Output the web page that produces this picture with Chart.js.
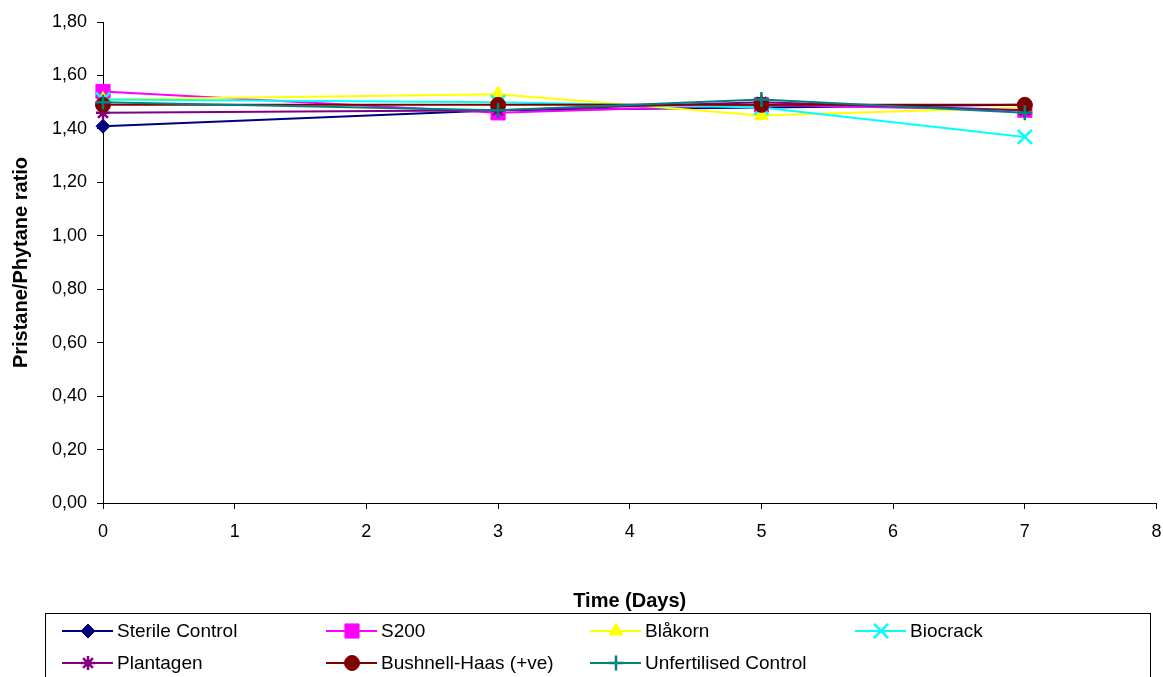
<!DOCTYPE html>
<html>
<head>
<meta charset="utf-8">
<script src="https://cdn.jsdelivr.net/npm/chart.js@4/dist/chart.umd.min.js"></script>
<style>
html,body{margin:0;padding:0;background:#fff;overflow:hidden;}
#wrap{position:relative;width:1163px;height:677px;overflow:hidden;}
</style>
</head>
<body>
<div id="wrap"><canvas id="c" width="1169" height="677"></canvas></div>
<script>
const days = [0, 3, 5, 7];
const sterileControl = [1.41, 1.47, 1.48, 1.49];
const s200 = [1.54, 1.46, 1.49, 1.47];
const blakorn = [1.51, 1.53, 1.45, 1.48];
const biocrack = [1.51, 1.50, 1.48, 1.37];
const plantagen = [1.46, 1.47, 1.50, 1.47];
const bushnellHaas = [1.49, 1.49, 1.49, 1.49];
const unfertilised = [1.50, 1.47, 1.51, 1.46];
const seriesNames = ['Sterile Control','S200','Blåkorn','Biocrack','Plantagen','Bushnell-Haas (+ve)','Unfertilised Control'];
const seriesValues = [sterileControl, s200, blakorn, biocrack, plantagen, bushnellHaas, unfertilised];
const xTicks = [0,1,2,3,4,5,6,7,8];

const colors = ['#000080','#FF00FF','#FFFF00','#00FFFF','#800080','#800000','#008080'];
const styles = ['rectRot','rect','triangle','crossRot','star','circle','cross'];
const radii = [7,10,8,10,7,7.5,7.5];
const FONT = "'Liberation Sans', Arial, sans-serif";

const datasets = seriesValues.map((vals,i)=>({
  label: seriesNames[i],
  data: vals.map((v,j)=>({x: days[j], y: v})),
  borderColor: colors[i],
  backgroundColor: colors[i],
  pointBackgroundColor: colors[i],
  pointBorderColor: colors[i],
  pointStyle: styles[i],
  pointRadius: radii[i],
  pointBorderWidth: (styles[i]==='cross'||styles[i]==='crossRot'||styles[i]==='star') ? 2.5 : 1,
  borderWidth: 2,
  tension: 0,
  clip: false,
  order: seriesValues.length - 1 - i
}));

const legendPlugin = {
  id: 'customLegend',
  afterDraw(chart){
    const ctx = chart.ctx;
    ctx.save();
    ctx.strokeStyle = '#000';
    ctx.lineWidth = 1;
    ctx.strokeRect(45.5, 613.5, 1105, 80);
    const colX = [62, 326, 590, 855];
    const rowY = [631, 663];
    ctx.font = "19px " + FONT;
    ctx.textBaseline = 'middle';
    ctx.textAlign = 'left';
    seriesNames.forEach((name,i)=>{
      const x = colX[i%4], y = rowY[Math.floor(i/4)];
      ctx.strokeStyle = colors[i];
      ctx.lineWidth = 2;
      ctx.beginPath(); ctx.moveTo(x, y); ctx.lineTo(x+51, y); ctx.stroke();
      const opts = {pointStyle: styles[i], radius: radii[i], rotation: 0, borderWidth: datasets[i].pointBorderWidth};
      ctx.fillStyle = colors[i];
      ctx.strokeStyle = colors[i];
      ctx.lineWidth = opts.borderWidth;
      Chart.helpers.drawPoint(ctx, opts, x+26, y);
      ctx.fillStyle = '#000';
      ctx.fillText(name, x+55, y+1);
    });
    ctx.restore();
  }
};

new Chart(document.getElementById('c'), {
  type: 'line',
  data: { datasets },
  options: {
    responsive: false,
    animation: false,
    layout: { padding: { top: 22, right: 1, left: 0, bottom: 64 } },
    plugins: { legend: { display: false }, tooltip: { enabled: false } },
    scales: {
      x: {
        type: 'linear', min: 0, max: 8,
        afterBuildTicks: (s)=>{ s.ticks = xTicks.map(v=>({value:v})); },
        ticks: { color: '#000', font: { family: FONT, size: 18 }, padding: 12, maxRotation: 0 },
        grid: { display: true, drawOnChartArea: false, color: '#000', tickLength: 6, tickWidth: 1 },
        border: { display: true, color: '#000', width: 1 },
        title: { display: true, text: 'Time (Days)', color: '#000', font: { family: FONT, size: 20, weight: 'bold' }, padding: { top: 4, bottom: 0 } },
        afterFit: (s)=>{ s.height = 110; s.paddingLeft = 0; s.paddingRight = 0; }
      },
      y: {
        min: 0, max: 1.8,
        afterBuildTicks: (s)=>{ const t=[]; for(let k=0;k<=9;k++) t.push({value: k*0.2}); s.ticks = t; },
        ticks: { color: '#000', font: { family: FONT, size: 18 }, padding: 10,
          callback: (v)=> Number(v).toFixed(2).replace('.', ',') },
        grid: { display: true, drawOnChartArea: false, color: '#000', tickLength: 6, tickWidth: 1 },
        border: { display: true, color: '#000', width: 1 },
        title: { display: true, text: 'Pristane/Phytane ratio', color: '#000', font: { family: FONT, size: 20, weight: 'bold' }, padding: { top: 9, bottom: 0 } },
        afterFit: (s)=>{ s.width = 103; }
      }
    }
  },
  plugins: [legendPlugin]
});
</script>
</body>
</html>
